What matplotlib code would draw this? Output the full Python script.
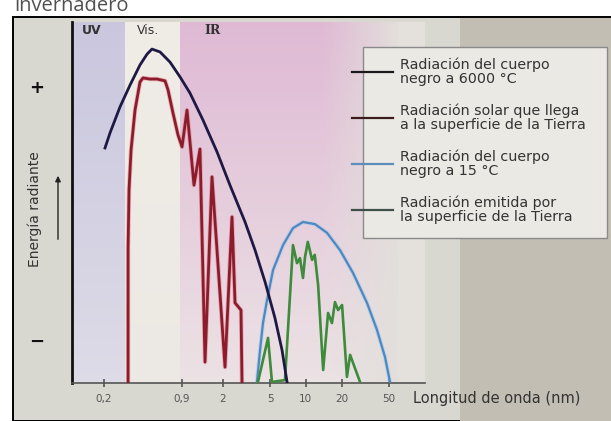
#importing libraries
import numpy as np
import matplotlib.pyplot as plt
from matplotlib.patches import Rectangle, FancyArrowPatch
from matplotlib.lines import Line2D
from matplotlib.colors import to_rgb

# Data (wavelength in um, relative energy 0-100)
bb6000_wl = [0.204, 0.225, 0.273, 0.331, 0.402, 0.461, 0.507, 0.593, 0.719, 0.873,
             1.06, 1.36, 1.79, 2.30, 3.08, 3.74, 4.54, 5.50, 6.31, 6.95]
bb6000_e = [65.1, 69.3, 76.5, 82.5, 88.1, 91.1, 92.5, 91.7, 88.9, 84.8,
            80.3, 72.9, 64.0, 54.8, 44.6, 36.8, 28.0, 18.0, 9.1, 0.3]

solar_wl = [0.319, 0.319, 0.325, 0.338, 0.365, 0.402, 0.426, 0.488, 0.559, 0.653,
            0.692, 0.762, 0.840, 0.908, 1.0, 1.145, 1.286, 1.418, 1.623, 2.089,
            2.392, 2.536, 2.848, 2.904]
solar_e = [0, 36.8, 53.5, 64.5, 75.6, 83.4, 84.5, 84.2, 84.2, 83.7,
           81.2, 74.8, 68.7, 65.4, 75.6, 54.8, 64.8, 5.8, 57.1, 4.4,
           46.0, 22.2, 20.2, 0]

bb15_wl = [3.88, 4.12, 4.36, 4.72, 5.30, 6.43, 7.80, 9.47, 11.95, 15.09,
           19.41, 24.96, 32.74, 39.75, 46.42, 51.15]
bb15_e = [0.3, 9.1, 16.6, 23.0, 31.3, 38.2, 42.9, 44.6, 44.0, 41.6,
          36.8, 30.5, 22.2, 14.7, 7.2, 0.3]

earth_wl = [3.96, 4.81, 5.19, 6.68, 7.80, 8.43, 8.93, 9.47, 9.85, 10.4,
            11.3, 11.9, 12.7, 14.0, 15.4, 16.6, 17.6, 18.7, 20.2, 22.2,
            23.6, 28.6]
earth_e = [0.3, 12.5, 0.3, 0.8, 38.2, 33.2, 34.6, 29.1, 34.9, 39.1,
           34.1, 35.5, 27.1, 3.6, 19.4, 16.6, 22.4, 20.2, 21.6, 1.7,
           7.8, 0.3]

tick_vals = [0.2, 0.9, 2, 5, 10, 20, 50]
tick_labels = ['0,2', '0,9', '2', '5', '10', '20', '50']

legend_labels = ['Radiación del cuerpo\nnegro a 6000 °C',
                 'Radiación solar que llega\na la superficie de la Tierra',
                 'Radiación del cuerpo\nnegro a 15 °C',
                 'Radiación emitida por\nla superficie de la Tierra']
curve_colors = ['#1e1844', '#8c1c2c', '#4f88c0', '#3d8b3b']
legend_colors = ['#1a1a1a', '#3a1c1c', '#5d8db8', '#3e4e48']

W, H = 611, 421
XMIN, XMAX = 0.1076, 100.8


def fxy(px, py):
    # pixel position -> figure fraction
    return px / W, 1 - py / H


def band(ax, xa, xb, c_top, c_bot, c_bg, fade_from=None, nx=160, ny=80):
    # shaded spectral band, vertical gradient + optional fade to the right
    xe = np.geomspace(xa, xb, nx + 1)
    ye = np.linspace(0, 100, ny + 1)
    xc = np.sqrt(xe[:-1] * xe[1:])
    yc = 0.5 * (ye[:-1] + ye[1:])
    fy = (100 - yc[:, None]) / 100.0
    top = np.array(to_rgb(c_top))
    bot = np.array(to_rgb(c_bot))
    bg = np.array(to_rgb(c_bg))
    col = top * (1 - fy[..., None]) + bot * fy[..., None]
    col = np.broadcast_to(col, (ny, nx, 3)).copy()
    if fade_from is not None:
        fx = np.clip(np.log(xc / fade_from) / np.log(xb / fade_from), 0, 1)
        fx = fx[None, :, None]
        col = col * (1 - fx) + bg * fx
    ax.pcolormesh(xe, ye, col, shading='flat', zorder=0,
                  edgecolors='none', antialiased=False)


fig = plt.figure(figsize=(W / 100, H / 100), dpi=100)
fig.patch.set_facecolor('white')

# page title cut off at top (as in the scan)
fig.text(*fxy(14, 11), 'invernadero', fontsize=14.5, color='#505050',
         family='Open Sans', va='baseline', ha='left', zorder=-5)

# framed panel
x0, y0 = fxy(13, 421)
x1, y1 = fxy(640, 17)
fig.patches.append(Rectangle((x0, y0), x1 - x0, y1 - y0, transform=fig.transFigure,
                             facecolor='#d9d8d0', edgecolor='black', lw=1.4, zorder=-3))
x0, y0 = fxy(460, 421)
x1, y1 = fxy(611, 18)
fig.patches.append(Rectangle((x0, y0), x1 - x0, y1 - y0, transform=fig.transFigure,
                             facecolor='#c2beb3', edgecolor='none', zorder=-2))

# main axes
l, b = fxy(72, 383)
r, t = fxy(425, 22)
ax = fig.add_axes([l, b, r - l, t - b])
ax.set_xscale('log')
ax.set_facecolor('#e4e0dc')

# spectral bands
band(ax, XMIN, 0.30, '#c9c6de', '#dddbe6', '#e4e0dc')
band(ax, 0.30, 0.87, '#efece6', '#ece9e4', '#e4e0dc')
band(ax, 0.87, 60, '#dfb9d4', '#ebe2e4', '#e2dedb', fade_from=14)
ax.set_xlim(XMIN, XMAX)
ax.set_ylim(0, 100)

# curves
ax.plot(solar_wl, solar_e, color='#e07a8a', lw=3.2, alpha=0.5, zorder=2)
ax.plot(solar_wl, solar_e, color=curve_colors[1], lw=2.0, zorder=3)
ax.plot(bb15_wl, bb15_e, color='#a9cbe8', lw=3.0, alpha=0.6, zorder=2)
ax.plot(bb15_wl, bb15_e, color=curve_colors[2], lw=1.6, zorder=3)
ax.plot(earth_wl, earth_e, color=curve_colors[3], lw=1.9, zorder=3)
ax.plot(bb6000_wl, bb6000_e, color=curve_colors[0], lw=2.0, zorder=4)

# axes style
for s in ['top', 'right']:
    ax.spines[s].set_visible(False)
ax.spines['left'].set_color('#111111')
ax.spines['left'].set_linewidth(2.0)
ax.spines['bottom'].set_color('#555555')
ax.spines['bottom'].set_linewidth(1.2)
ax.set_yticks([])
ax.set_xticks(tick_vals)
ax.set_xticklabels(tick_labels)
ax.xaxis.set_minor_locator(plt.NullLocator())
ax.tick_params(axis='x', direction='inout', length=6, width=1.2, color='#555555',
               labelsize=7.5, labelcolor='#555555', pad=5)

# band labels
fig.text(*fxy(82, 31), 'UV', fontsize=9, weight='bold', color='#333333', va='center')
fig.text(*fxy(137, 31), 'Vis.', fontsize=9, color='#333333', va='center')
fig.text(*fxy(204, 31), 'IR', fontsize=9, weight='bold', family='DejaVu Serif',
         color='#333333', va='center')

# y-axis annotation
fig.text(*fxy(37, 88), '+', fontsize=13, weight='bold', color='#111111', ha='center', va='center')
fig.text(*fxy(37, 342), '−', fontsize=13, weight='bold', color='#111111', ha='center', va='center')
fig.text(*fxy(35, 209), 'Energía radiante', fontsize=10, rotation=90, color='#333333',
         ha='center', va='center')
fig.add_artist(FancyArrowPatch(fxy(58, 242), fxy(58, 173),
               transform=fig.transFigure, arrowstyle='-|>', mutation_scale=8,
               color='#222222', lw=1.0))

# x-axis title
fig.text(*fxy(413, 398), 'Longitud de onda (nm)', fontsize=10.5, color='#333333',
         va='center', ha='left')

# legend box
x0, y0 = fxy(363, 238)
x1, y1 = fxy(607, 47)
fig.patches.append(Rectangle((x0, y0), x1 - x0, y1 - y0, transform=fig.transFigure,
                             facecolor='#ebe9e4', edgecolor='#8a8a8a', lw=1.0, zorder=1))
leg_y = [72, 118, 164, 210]
for yy, lab, col in zip(leg_y, legend_labels, legend_colors):
    xa, ya = fxy(352, yy)
    xb, _ = fxy(393, yy)
    fig.add_artist(Line2D([xa, xb], [ya, ya], color=col, lw=1.6,
                          transform=fig.transFigure, zorder=2))
    fig.text(*fxy(400, yy), lab, fontsize=10.3, color='#333333', va='center', ha='left',
             linespacing=1.0, zorder=3)

plt.savefig('out.png', dpi=100)
